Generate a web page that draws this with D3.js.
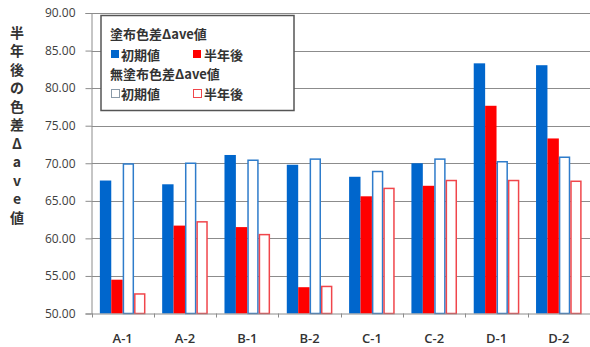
<!DOCTYPE html>
<html>
<head>
<meta charset="utf-8">
<script src="https://cdn.jsdelivr.net/npm/d3@7"></script>
<style>
  html, body { margin: 0; padding: 0; background: #fff; }
  svg { display: block; }
  text { font-family: "Noto Sans CJK JP", "Noto Sans", sans-serif; }
</style>
</head>
<body>
<svg id="chart" width="590" height="347"></svg>
<script>
// Samples and Δave values
const categories = ["A-1", "A-2", "B-1", "B-2", "C-1", "C-2", "D-1", "D-2"];
const coatedInitial   = [67.7, 67.2, 71.1, 69.8, 68.2, 70.0, 83.3, 83.05];
const coatedHalfYear  = [54.5, 61.7, 61.5, 53.5, 65.6, 67.0, 77.65, 73.3];
const uncoatedInitial = [70.0, 70.1, 70.5, 70.65, 69.0, 70.65, 70.3, 70.9];
const uncoatedHalfYear= [52.7, 62.3, 60.6, 53.7, 66.75, 67.8, 67.8, 67.7];
const yTicks = [50, 55, 60, 65, 70, 75, 80, 85, 90];
const yTitleChars = ["半", "年", "後", "の", "色", "差", "Δ", "a", "v", "e", "値"];

const series = [
  { key: "ci", values: coatedInitial,    fill: "#0066CC", stroke: "none" },
  { key: "ch", values: coatedHalfYear,   fill: "#FF0000", stroke: "none" },
  { key: "ui", values: uncoatedInitial,  fill: "#ffffff", stroke: "#2E7CCB" },
  { key: "uh", values: uncoatedHalfYear, fill: "#ffffff", stroke: "#F0464B" }
];

const svg = d3.select("#chart");
const plotLeft = 91.5, plotRight = 590, plotTop = 13, plotBottom = 313.5;

const y = d3.scaleLinear().domain([50, 90]).range([plotBottom, plotTop]);
const x = d3.scaleBand().domain(categories).range([plotLeft, plotRight]).paddingInner(0).paddingOuter(0);
const barW = 11.4;
const sub = d3.scaleBand().domain(series.map(s => s.key))
  .range([(x.bandwidth() - 4 * barW) / 2, (x.bandwidth() + 4 * barW) / 2]).padding(0);

// Gridlines
svg.append("g").selectAll("line").data(yTicks.filter(t => t > 50)).join("line")
  .attr("x1", plotLeft).attr("x2", plotRight)
  .attr("y1", d => Math.round(y(d)) + 0.5).attr("y2", d => Math.round(y(d)) + 0.5)
  .attr("stroke", "#8c8c8c").attr("stroke-width", 1);

// Y axis
const yAxis = d3.axisLeft(y).tickValues(yTicks).tickFormat(d3.format(".2f")).tickSize(6).tickPadding(10);
const gy = svg.append("g").attr("transform", `translate(${plotLeft},0)`).call(yAxis);
gy.select(".domain").attr("stroke", "#8c8c8c");
gy.selectAll(".tick line").attr("stroke", "#8c8c8c");
gy.selectAll(".tick text").attr("fill", "#404040").attr("font-size", 12)
  .style("font-family", "'Open Sans', sans-serif");

// Bars
const groups = svg.append("g").selectAll("g").data(categories).join("g")
  .attr("transform", d => `translate(${x(d)},0)`);
series.forEach(s => {
  const hollow = s.stroke !== "none";
  groups.append("rect")
    .attr("x", () => sub(s.key) + (hollow ? 0.75 : 0))
    .attr("width", hollow ? barW - 1.5 : barW)
    .attr("y", (d, i) => y(s.values[i]) + (hollow ? 0.75 : 0))
    .attr("height", (d, i) => plotBottom - y(s.values[i]) - (hollow ? 0.75 : 0))
    .attr("fill", s.fill)
    .attr("stroke", hollow ? s.stroke : "none")
    .attr("stroke-width", hollow ? 1.5 : 0);
});

// X axis
const xAxis = d3.axisBottom(x).tickSize(0).tickPadding(20);
const gx = svg.append("g").attr("transform", `translate(0,${plotBottom})`).call(xAxis);
gx.select(".domain").attr("stroke", "#8c8c8c");
gx.selectAll(".tick text").attr("fill", "#333").attr("font-size", 13).attr("font-weight", 600)
  .style("font-family", "'Open Sans', sans-serif");
svg.append("g").selectAll("line").data(d3.range(categories.length + 1)).join("line")
  .attr("x1", i => Math.round(plotLeft + i * x.step()) + 0.5)
  .attr("x2", i => Math.round(plotLeft + i * x.step()) + 0.5)
  .attr("y1", plotBottom).attr("y2", plotBottom + 4)
  .attr("stroke", "#8c8c8c");

// Y title, stacked vertically
svg.append("g").selectAll("text").data(yTitleChars).join("text")
  .attr("x", 17).attr("y", (d, i) => 31.5 + i * 18.5)
  .attr("text-anchor", "middle").attr("dominant-baseline", "central")
  .attr("font-size", 14).attr("font-weight", 700).attr("fill", "#333")
  .text(d => d);

// Legend
const lg = svg.append("g");
lg.append("rect").attr("x", 101).attr("y", 15.5).attr("width", 193).attr("height", 95)
  .attr("fill", "#fff").attr("stroke", "#555").attr("stroke-width", 1.5);
const lgText = (tx, ty, t) => lg.append("text").attr("x", tx).attr("y", ty)
  .attr("dominant-baseline", "central").attr("font-size", 13).attr("font-weight", 700)
  .attr("fill", "#333").text(t);
const lgBox = (bx, by, fill, stroke) => lg.append("rect").attr("x", bx).attr("y", by)
  .attr("width", 8).attr("height", 8)
  .attr("fill", fill).attr("stroke", stroke).attr("stroke-width", 1);
lgText(110, 33, "塗布色差Δave値");
lgBox(111, 50, series[0].fill, "none"); lgText(121, 54, "初期値");
lgBox(193, 50, series[1].fill, "none"); lgText(204, 54, "半年後");
lgText(110, 73, "無塗布色差Δave値");
lgBox(111.5, 89.5, "#fff", "#8a9aa8"); lgText(121, 93.5, "初期値");
lgBox(193.5, 89.5, "#fff", series[3].stroke); lgText(204, 93.5, "半年後");
</script>
</body>
</html>
